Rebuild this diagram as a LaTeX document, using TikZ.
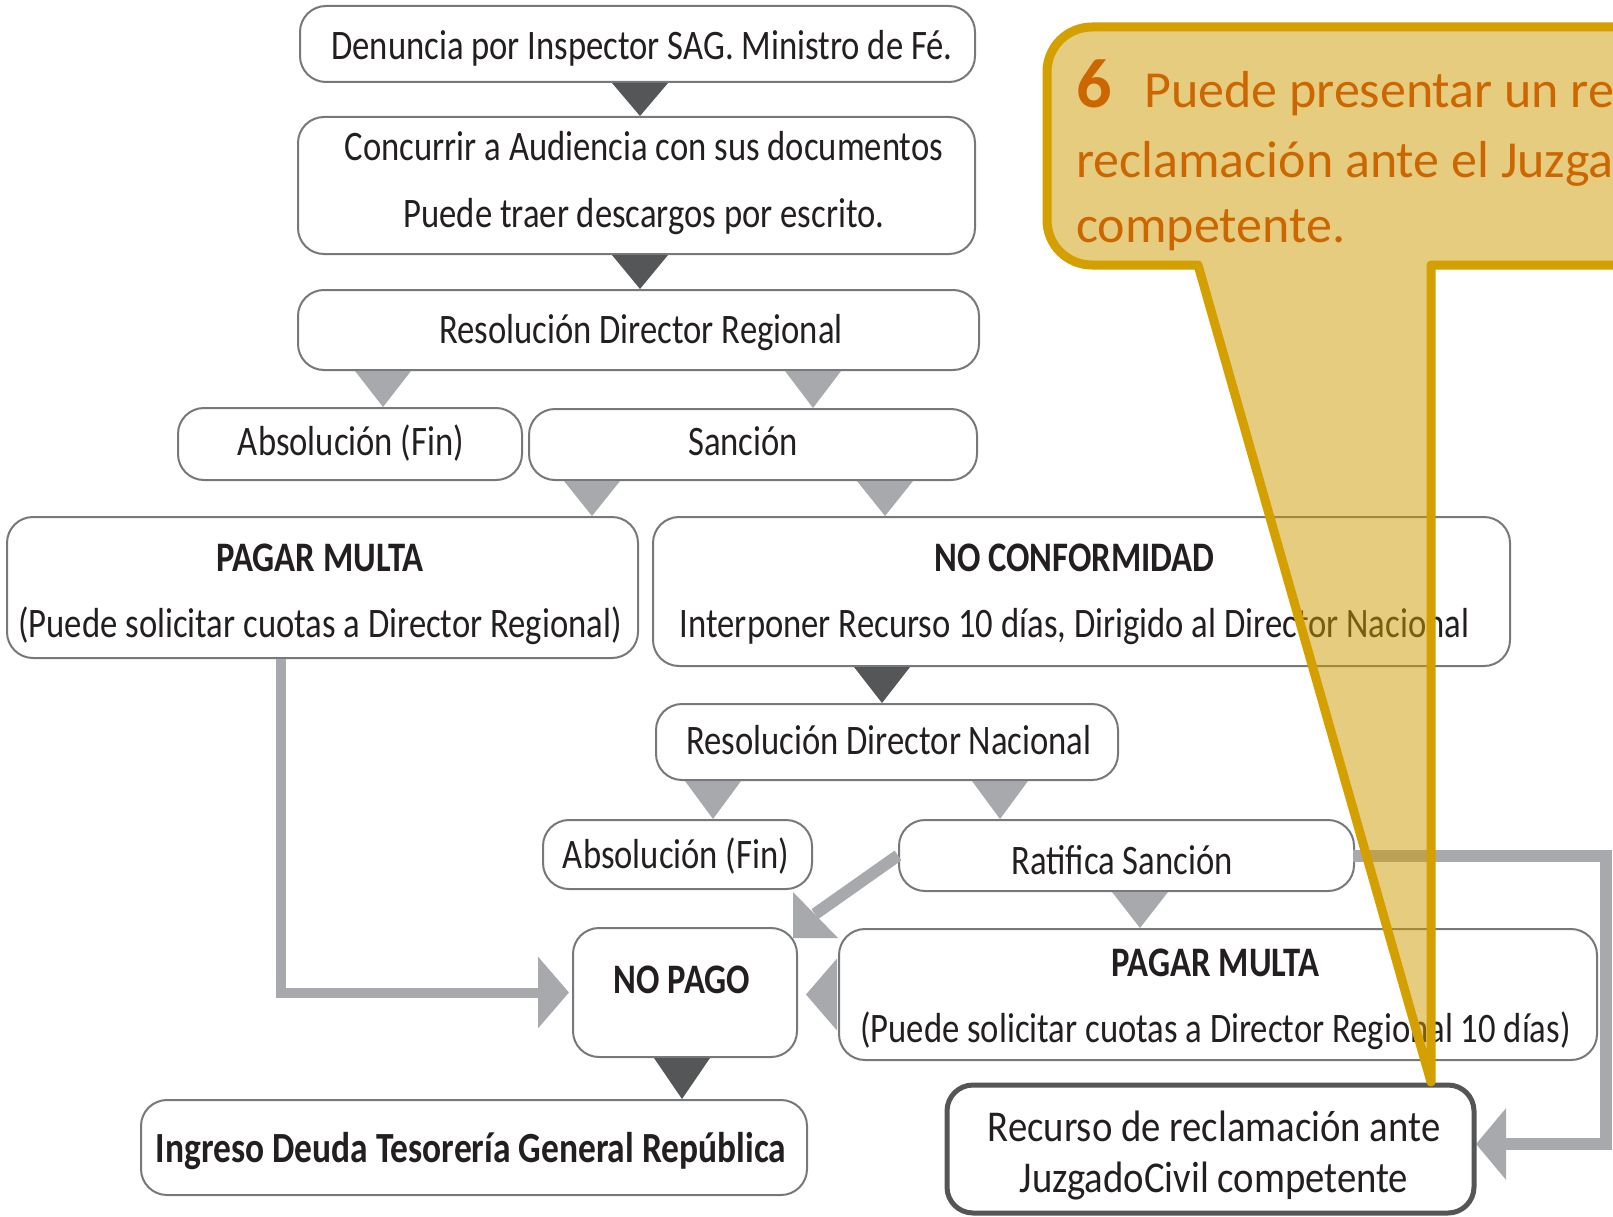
\documentclass[tikz,border=0pt]{standalone}
\usepackage{fontspec}
\setmainfont{Carlito}
\newfontfamily\flowfont[FakeStretch=0.825]{Carlito}
\newfontfamily\recfont[FakeStretch=0.88]{Carlito}
\usetikzlibrary{calc,arrows.meta}
\definecolor{txtcol}{HTML}{231F20}
\definecolor{boxgray}{HTML}{77787B}
\definecolor{lightarr}{HTML}{A7A9AC}
\definecolor{darkarr}{HTML}{555658}
\definecolor{recgray}{HTML}{555555}
\definecolor{gold}{HTML}{D4A000}
\definecolor{calfill}{HTML}{CE9B00}
\definecolor{calltxt}{HTML}{CC6600}
\newcommand\tri[4]{\fill[#1] let \p1=(#3.south), \p2=(#4.north) in (#2pt-28pt,\y1) -- (#2pt+28pt,\y1) -- (#2pt,\y2) -- cycle;}
\begin{document}
\begin{tikzpicture}[x=1pt,y=-1pt,
  box/.style={draw=boxgray, line width=2pt, rounded corners=26pt, fill=white, inner sep=0pt},
  sz/.style 2 args={minimum width=#1pt, minimum height=#2pt},
  txt/.style={inner sep=0pt, align=center, font=\flowfont\fontsize{42}{66}\selectfont, text=txtcol},
  conn/.style={draw=lightarr, line width=10pt, line join=miter, -{Triangle[length=31pt,width=70pt]}},
  ctext/.style={text=calltxt, font=\fontsize{52}{60}\selectfont, inner sep=0pt, anchor=base west}]
\useasboundingbox (0,0) rectangle (1613,1217);
\clip (0,0) rectangle (1613,1217);
\fill[white] (0,0) rectangle (1613,1217);

% upper boxes
\path node[box, sz={675}{76}] (n1) at (637.5,44) {}
  node[box, sz={677}{137}] (n2) at (636.5,185.5) {}
  node[box, sz={681}{80}] (n3) at (638.5,330) {}
  node[box, sz={344}{72}] (a1) at (350,444) {}
  node[box, sz={448}{71}] (s1) at (753,444.5) {}
  node[box, sz={631}{141}] (p1) at (322.5,587.5) {}
  node[box, sz={857}{149}] (nc) at (1081.5,591.5) {}
  node[box, sz={462}{76}] (rn) at (887,742) {}
  node[box, sz={269}{69}] (a2) at (677.5,854.5) {}
  node[box, sz={455}{71}] (rt) at (1126.5,855.5) {};

% connectors (under the lower boxes)
\draw[conn] let \p1=(p1.south), \p2=(0,992.5) in (281pt,\y1) |- (569pt,\y2);
\draw[conn, line width=12pt, -{Triangle[length=30pt,width=70pt]}] let \p1=(rt.east), \p2=(0,1144) in (\x1-2pt,\y1) -- (1606pt,\y1) |- (1476pt,\y2);
\draw[draw=lightarr, line width=12pt] (rt.west) -- (815,914);
\fill[lightarr] (793,892) -- (838,938) -- (793,938) -- cycle;

% lower boxes
\path node[box, sz={224}{129}] (np) at (685,992.5) {}
  node[box, sz={758}{131}] (p2) at (1218,994.5) {}
  node[box, sz={666}{95}] (ig) at (474,1147.5) {}
  node[box, sz={527}{128}, draw=recgray, line width=5pt] (rc) at (1210.5,1149) {};

% texts
\node[txt] (t1) at (642,48) {Denuncia por Inspector SAG. Ministro de Fé.};
\node[txt, font=\flowfont\fontsize{42}{67}\selectfont] (t2) at (644,183.5) {Concurrir a Audiencia con sus documentos\\Puede traer descargos por escrito.};
\node[txt] (t3) at (641,333) {Resolución Director Regional};
\node[txt] (ta1) at (351,443) {Absolución (Fin)};
\node[txt] (ts1) at (743,441.5) {Sanción};
\node[txt] (tp1) at (320,594) {\textbf{PAGAR MULTA}\\(Puede solicitar cuotas a Director Regional)};
\node[txt] (tnc) at (1074.5,594.5) {\textbf{NO CONFORMIDAD}\\Interponer Recurso 10 días, Dirigido al Director Nacional};
\node[txt] (trn) at (889,740) {Resolución Director Nacional};
\node[txt] (ta2) at (676,856.5) {Absolución (Fin)};
\node[txt] (trt) at (1122,860.5) {Ratifica Sanción};
\node[txt] (tnp) at (682,980) {\bfseries NO PAGO};
\node[txt] (tp2) at (1215.5,999) {\textbf{PAGAR MULTA}\\(Puede solicitar cuotas a Director Regional 10 días)};
\node[txt, font=\flowfont\fontsize{43}{65}\selectfont] (tig) at (471,1151.5) {\textbf{Ingreso Deuda Tesorería General República}};
\node[txt, font=\recfont\fontsize{44}{51}\selectfont] (trc) at (1214,1155) {Recurso de reclamación ante\\JuzgadoCivil competente};

% triangles between boxes
\tri{darkarr}{640}{n1}{n2}
\tri{darkarr}{640}{n2}{n3}
\tri{lightarr}{383}{n3}{a1}
\tri{lightarr}{813}{n3}{s1}
\tri{lightarr}{592}{s1}{p1}
\tri{lightarr}{885}{s1}{nc}
\tri{darkarr}{882}{nc}{rn}
\tri{lightarr}{713}{rn}{a2}
\tri{lightarr}{1000}{rn}{rt}
\tri{lightarr}{1140}{rt}{p2}
\tri{darkarr}{682}{np}{ig}
\fill[lightarr] let \p1=(p2.west), \p2=(np.east) in (\x1-1pt,\y1-36pt) -- (\x1-1pt,\y1+36pt) -- (\x2+8pt,\y1) -- cycle;

% callout
\path[draw=gold, line width=9pt, fill=calfill, fill opacity=0.5, line join=round]
  (1700,27) -- (1092,27) .. controls (1067,27) and (1047,47) .. (1047,72)
  -- (1047,220) .. controls (1047,245) and (1067,265) .. (1092,265)
  -- (1198,265) -- (1431,1082) -- (1431,265) -- (1700,265);
\node[ctext] (c1a) at (1076,108) {\fontsize{70}{70}\selectfont\bfseries 6};
\node[ctext] (c1b) at (1144,108) {Puede presentar un re};
\node[ctext] (c2) at (1076,178) {reclamación ante el Juzga};
\node[ctext] (c3) at (1076,242) {competente.};
\end{tikzpicture}
\end{document}
